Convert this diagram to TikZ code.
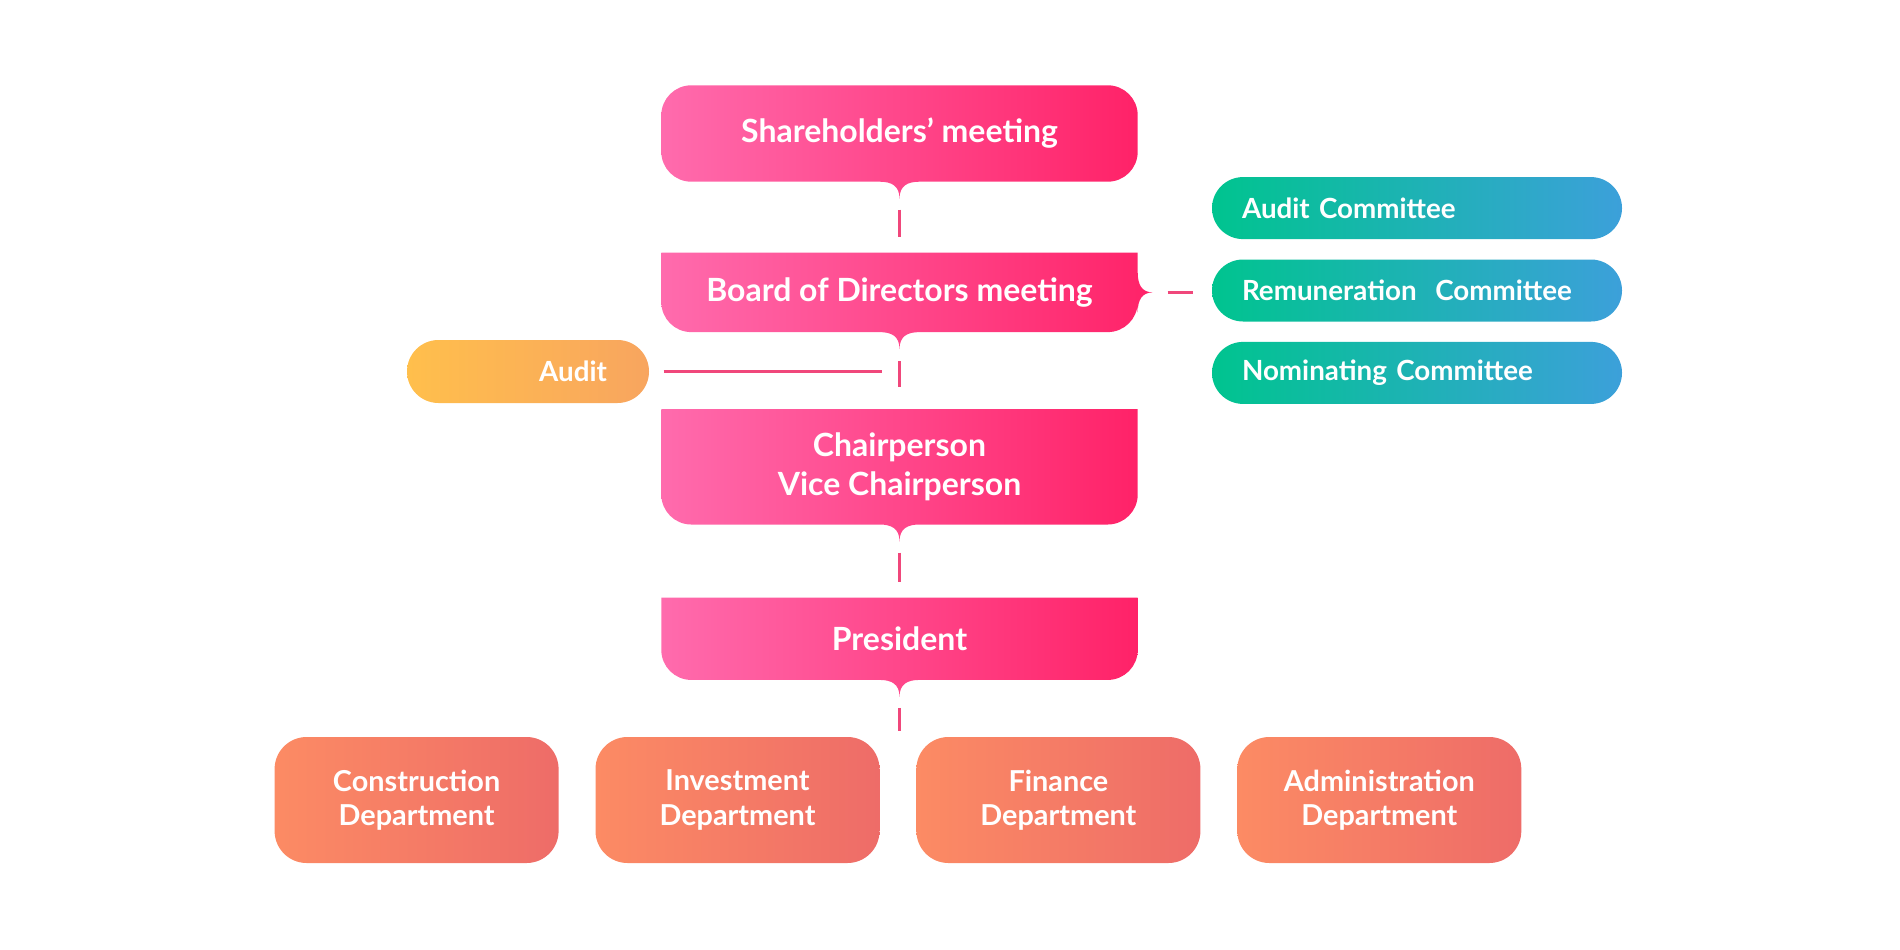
\documentclass[tikz,border=0pt]{standalone}
\usepackage{fontspec}
\setmainfont{Lato}
\usetikzlibrary{positioning, calc, backgrounds}
\definecolor{OrgPinkL}{HTML}{FF6BAD}
\definecolor{OrgPinkR}{HTML}{FF2268}
\definecolor{OrgOrangeL}{HTML}{FC8B64}
\definecolor{OrgOrangeR}{HTML}{EE6C68}
\definecolor{OrgGoldL}{HTML}{FFBF4C}
\definecolor{OrgGoldR}{HTML}{F8A55F}
\definecolor{OrgTealL}{HTML}{00C48F}
\definecolor{OrgTealR}{HTML}{3CA0DA}
\definecolor{OrgLink}{HTML}{F0477B}
\hyphenpenalty=10000

\begin{document}
\begin{tikzpicture}[
    lead/.style={
      rectangle, minimum width=4.75cm, inner sep=0pt, align=center,
      text=white, font=\fontsize{9.1}{11}\selectfont\bfseries
    },
    pinkfill/.style={left color=OrgPinkL, right color=OrgPinkR},
    dept/.style={
      rectangle, rounded corners=0.32cm, left color=OrgOrangeL, right color=OrgOrangeR,
      minimum width=2.84cm, minimum height=1.26cm, inner sep=0pt, align=center,
      text=white, font=\fontsize{8.2}{9.7}\selectfont\bfseries
    },
    cmte/.style={
      rectangle, rounded corners=0.31cm, left color=OrgTealL, right color=OrgTealR,
      minimum height=0.62cm, text width=3.5cm, inner xsep=0.3cm, inner ysep=0pt,
      align=left, text=white, font=\fontsize{7.9}{10}\selectfont\bfseries
    },
    auditbox/.style={
      rectangle, rounded corners=0.315cm, left color=OrgGoldL, right color=OrgGoldR,
      minimum height=0.63cm, text width=1.58cm, inner xsep=0.42cm, inner ysep=0pt,
      align=right, text=white, font=\fontsize{7.9}{10}\selectfont\bfseries
    },
    link/.style={draw=OrgLink, line width=0.7pt, shorten <=0.11cm, shorten >=0.16cm}
  ]
    \useasboundingbox (0,0) rectangle (19,-9.5);

    % main column
    \node[lead, minimum height=0.95cm] (share) at (8.995,-1.335) {Shareholders' meeting};
    \node[lead, minimum height=0.78cm, below=0.71cm of share] (board) {Board of Directors meeting};
    \node[lead, minimum height=1.14cm, below=0.77cm of board] (chair) {Chairperson\\Vice Chairperson};
    \node[lead, minimum height=0.81cm, below=0.73cm of chair] (pres) {President};

    \foreach \b in {share, board, chair, pres}
      \coordinate (\b-tip) at ([yshift=-0.17cm]\b.south);
    \coordinate (board-side) at ([xshift=0.15cm]board.east);

    % side boxes
    \node[auditbox] (audit) at (5.28,-3.715) {Audit};
    \node[cmte] (remun) at (14.17,-2.905) {Remuneration\ \ Committee};
    \node[cmte, above=0.19cm of remun] (auditc) {Audit Committee};
    \node[cmte, below=0.19cm of remun] (nomin) {Nominating Committee};

    % departments
    \node[dept] (invest) at (7.375,-8.0) {Investment\\Department};
    \node[dept, left=0.355cm of invest] (constr) {Construction\\Department};
    \node[dept, right=0.355cm of invest] (fin) {Finance\\Department};
    \node[dept, right=0.355cm of fin] (admin) {Administration\\Department};
    \coordinate (row-top) at ([yshift=0.05cm]invest.north -| pres.south);

    \begin{scope}[on background layer]
      \shade[pinkfill] ([xshift=0.3cm]share.north west) -- ([xshift=-0.3cm]share.north east)
        arc[start angle=90, end angle=0, radius=0.3cm] -- ([yshift=0.3cm]share.south east)
        arc[start angle=0, end angle=-90, radius=0.3cm] -- ([xshift=0.2cm]share.south)
        .. controls +(-0.12,0) and +(0,0.13) .. (share-tip)
        .. controls +(0,0.13) and +(0.12,0) .. ([xshift=-0.2cm]share.south)
        -- ([xshift=0.3cm]share.south west) arc[start angle=270, end angle=180, radius=0.3cm]
        -- ([yshift=-0.3cm]share.north west) arc[start angle=180, end angle=90, radius=0.3cm] -- cycle;
      \shade[pinkfill] (board.north west) -- (board.north east) -- ([yshift=0.2cm]board.east)
        .. controls +(0,-0.12) and +(-0.11,0) .. (board-side)
        .. controls +(-0.11,0) and +(0,0.12) .. ([yshift=-0.2cm]board.east)
        -- ([yshift=0.3cm]board.south east)
        arc[start angle=0, end angle=-90, radius=0.3cm] -- ([xshift=0.2cm]board.south)
        .. controls +(-0.12,0) and +(0,0.13) .. (board-tip)
        .. controls +(0,0.13) and +(0.12,0) .. ([xshift=-0.2cm]board.south)
        -- ([xshift=0.3cm]board.south west) arc[start angle=270, end angle=180, radius=0.3cm] -- cycle;
      \foreach \b in {chair, pres}
        \shade[pinkfill] (\b.north west) -- (\b.north east) -- ([yshift=0.3cm]\b.south east)
          arc[start angle=0, end angle=-90, radius=0.3cm] -- ([xshift=0.2cm]\b.south)
          .. controls +(-0.12,0) and +(0,0.13) .. (\b-tip)
          .. controls +(0,0.13) and +(0.12,0) .. ([xshift=-0.2cm]\b.south)
          -- ([xshift=0.3cm]\b.south west) arc[start angle=270, end angle=180, radius=0.3cm] -- cycle;
    \end{scope}

    % connectors
    \draw[link] (share-tip) -- (board);
    \draw[link, shorten <=0.12cm, shorten >=0.22cm] (board-tip) -- (chair);
    \draw[link] (chair-tip) -- (pres);
    \draw[link, shorten >=0pt] (pres-tip) -- (row-top);
    \draw[link, shorten <=0.14cm, shorten >=0.18cm] (audit.east) -- (audit.east -| chair.north);
    \draw[link, shorten <=0.15cm, shorten >=0.18cm] (board-side) -- (board-side -| remun.west);
  \end{tikzpicture}
\end{document}
